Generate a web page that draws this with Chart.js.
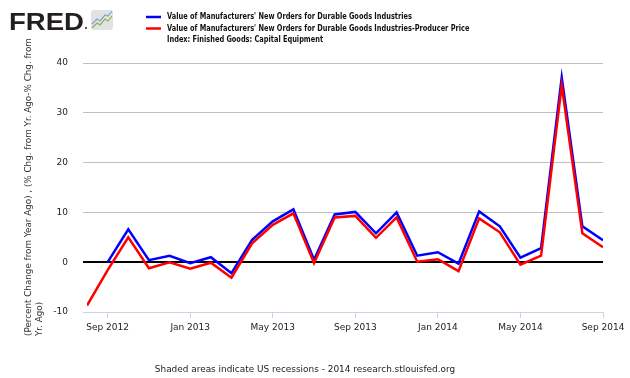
<!DOCTYPE html>
<html>
<head>
<meta charset="utf-8">
<script src="https://cdn.jsdelivr.net/npm/chart.js@4/dist/chart.umd.min.js"></script>
<style>
html,body{margin:0;padding:0;background:#fff;}
#wrap{width:630px;height:378px;position:relative;}
</style>
</head>
<body>
<div id="wrap"><canvas id="c" width="630" height="378"></canvas></div>
<script>
// Months Aug 2012 .. Sep 2014
const months = ['2012-08','2012-09','2012-10','2012-11','2012-12','2013-01','2013-02','2013-03','2013-04','2013-05','2013-06','2013-07','2013-08','2013-09','2013-10','2013-11','2013-12','2014-01','2014-02','2014-03','2014-04','2014-05','2014-06','2014-07','2014-08','2014-09'];
const tickMonths = ['2012-09','2013-01','2013-05','2013-09','2014-01','2014-05','2014-09'];
const tickLabels = ['Sep 2012','Jan 2013','May 2013','Sep 2013','Jan 2014','May 2014','Sep 2014'];
const durableOrders = [null,0.0,6.6,0.4,1.3,-0.2,1.0,-2.2,4.5,8.2,10.6,0.5,9.6,10.1,5.8,10.0,1.3,2.0,-0.3,10.2,7.2,0.9,2.8,37.1,7.2,4.4];
const durableOrdersDeflated = [-8.7,-1.6,5.0,-1.2,0.0,-1.3,-0.1,-3.1,3.8,7.5,9.8,-0.2,9.0,9.3,4.9,9.0,0.1,0.6,-1.8,8.8,6.0,-0.5,1.3,35.5,5.8,3.0];
const yTicks = [-10,0,10,20,30,40];
const seriesNames = ["Value of Manufacturers' New Orders for Durable Goods Industries",
  ["Value of Manufacturers' New Orders for Durable Goods Industries-Producer Price","Index: Finished Goods: Capital Equipment"]];
const yTitle = ["(Percent Change from Year Ago) , (% Chg. from Yr. Ago-% Chg. from","Yr. Ago)"];
const note = "Shaded areas indicate US recessions - 2014 research.stlouisfed.org";

const toPts = arr => arr.map((v,i)=>({x:i,y:v})).filter(p=>p.y!==null);

const FONT = "'DejaVu Sans', sans-serif";

function fitText(ctx, t, x, y, scale){
  const w = ctx.measureText(t).width;
  ctx.fillText(t, x, y, w*scale);
}

const decor = {
  id:'decor',
  afterDraw(chart){
    const ctx = chart.ctx;
    ctx.save();
    // FRED logo
    ctx.fillStyle = '#231f20';
    ctx.font = "bold 24px 'Liberation Sans', Arial, sans-serif";
    ctx.textBaseline = 'alphabetic';
    ctx.textAlign = 'left';
    const fw = ctx.measureText('FRED').width;
    ctx.save();
    ctx.translate(9, 29.5);
    ctx.scale(75/fw, 1);
    ctx.fillText('FRED', 0, 0);
    ctx.restore();
    ctx.beginPath(); ctx.arc(86, 28, 1, 0, Math.PI*2); ctx.fill();
    // icon
    ctx.fillStyle = '#e2e2e2';
    ctx.beginPath();
    if (ctx.roundRect) ctx.roundRect(91, 10, 22, 20, 3); else ctx.rect(91,10,22,20);
    ctx.fill();
    ctx.lineWidth = 1.2;
    ctx.strokeStyle = '#7fa6c9';
    ctx.beginPath(); ctx.moveTo(92,24); ctx.lineTo(97,19); ctx.lineTo(100,21); ctx.lineTo(105,15); ctx.lineTo(108,16); ctx.lineTo(112,11); ctx.stroke();
    ctx.strokeStyle = '#8db34a';
    ctx.beginPath(); ctx.moveTo(92,28); ctx.lineTo(97,23); ctx.lineTo(100,25); ctx.lineTo(105,19); ctx.lineTo(108,21); ctx.lineTo(112,16); ctx.stroke();

    // legend
    ctx.font = "bold 8px " + FONT;
    ctx.fillStyle = '#111';
    ctx.textBaseline = 'middle';
    ctx.lineWidth = 2.5;
    const ds = chart.data.datasets;
    const squeeze = 0.825;
    ctx.strokeStyle = ds[1].borderColor;
    ctx.beginPath(); ctx.moveTo(146,17); ctx.lineTo(161,17); ctx.stroke();
    fitText(ctx, ds[1].label, 167, 17, squeeze);
    ctx.strokeStyle = ds[0].borderColor;
    ctx.beginPath(); ctx.moveTo(146,28.5); ctx.lineTo(161,28.5); ctx.stroke();
    seriesNames[1].forEach((t,i)=>fitText(ctx, t, 167, 28.5 + i*11, squeeze));

    // y axis title
    ctx.font = "9px " + FONT;
    ctx.fillStyle = '#333';
    ctx.translate(29, 336);
    ctx.rotate(-Math.PI/2);
    ctx.textAlign = 'left';
    ctx.textBaseline = 'middle';
    yTitle.forEach((t,i)=>fitText(ctx, t, 0, i*11, 0.975));
    ctx.restore();

    // note
    ctx.save();
    ctx.font = "9px " + FONT;
    ctx.fillStyle = '#222';
    ctx.textAlign = 'center';
    ctx.textBaseline = 'middle';
    fitText(ctx, note, 305, 370, 0.99);
    ctx.restore();
  }
};

new Chart(document.getElementById('c'), {
  type:'line',
  data:{
    datasets:[
      {label:seriesNames[1].join(' '), data:toPts(durableOrdersDeflated), borderColor:'#ff0000', borderWidth:2.5, pointRadius:0, tension:0, fill:false},
      {label:seriesNames[0], data:toPts(durableOrders), borderColor:'#0000ff', borderWidth:2.5, pointRadius:0, tension:0, fill:false}
    ]
  },
  options:{
    responsive:false,
    animation:false,
    layout:{padding:{left:0,right:27,top:63,bottom:0}},
    plugins:{legend:{display:false}, tooltip:{enabled:false}},
    scales:{
      x:{
        type:'linear', min:0, max:months.length-1,
        afterBuildTicks(s){ s.ticks = tickMonths.map(m=>({value:months.indexOf(m)})); },
        afterFit(s){ s.height = 66; },
        ticks:{ callback:(v)=>tickLabels[tickMonths.indexOf(months[v])], font:{family:FONT,size:9}, color:'#222', padding:4, maxRotation:0, autoSkip:false },
        grid:{ drawOnChartArea:false, tickLength:6, color:'#c8d4e3', lineWidth:1 },
        border:{ display:true, color:'#c8d4e3', width:1 }
      },
      y:{
        min:-10, max:40,
        afterBuildTicks(s){ s.ticks = yTicks.map(v=>({value:v})); },
        afterFit(s){ s.width = 87; },
        ticks:{ font:{family:FONT,size:9}, color:'#222', padding:15 },
        grid:{ tickLength:4, lineWidth:(c)=> c.tick && c.tick.value===0 ? 2 : 1,
               color:(c)=> c.tick && c.tick.value===0 ? '#000000' : (c.tick && c.tick.value===-10 ? '#c8d4e3' : '#c0c0c0') },
        border:{ display:false }
      }
    }
  },
  plugins:[decor]
});
</script>
</body>
</html>
